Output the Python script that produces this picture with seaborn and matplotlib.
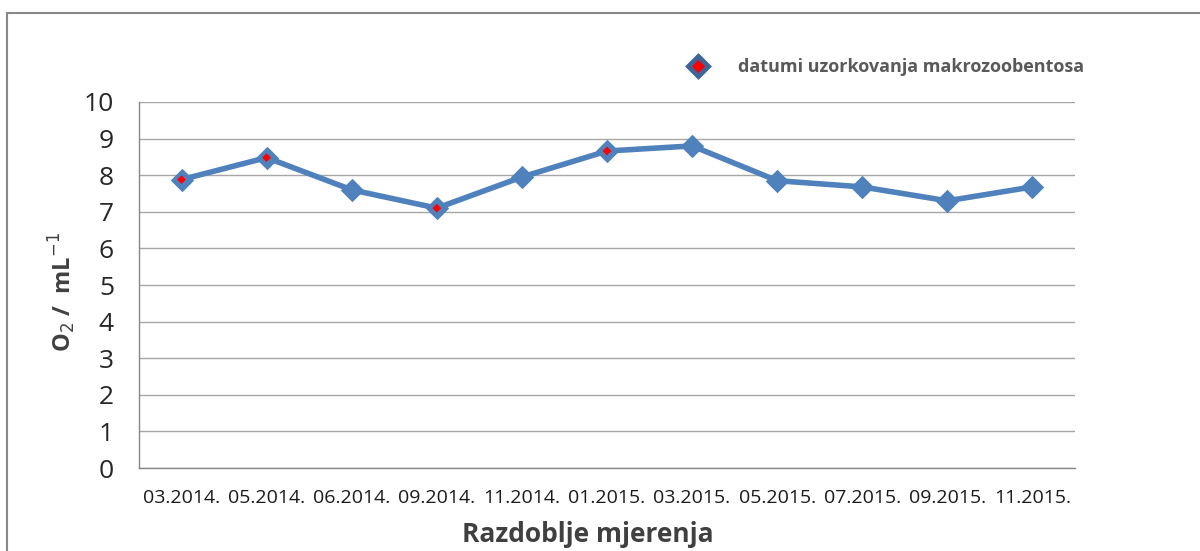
import matplotlib
matplotlib.use("Agg")
import numpy as np
import pandas as pd
import matplotlib.pyplot as plt
import seaborn as sns
from matplotlib.lines import Line2D

# data
datumi = ['03.2014.', '05.2014.', '06.2014.', '09.2014.', '11.2014.', '01.2015.',
          '03.2015.', '05.2015.', '07.2015.', '09.2015.', '11.2015.']
o2 = [7.88, 8.48, 7.6, 7.1, 7.95, 8.66, 8.8, 7.85, 7.68, 7.3, 7.68]
uzorkovanje = ['03.2014.', '05.2014.', '09.2014.', '01.2015.']

df = pd.DataFrame({'datum': datumi, 'o2': o2})
df['x'] = range(len(df))
df_uz = df[df['datum'].isin(uzorkovanje)]

sns.set_style("white")
plt.rcParams['font.family'] = ['Open Sans', 'DejaVu Sans']

blue = '#4F81BD'
grid_c = '#A6A6A6'

fig = plt.figure(figsize=(12, 5.51), dpi=100)
ax = fig.add_axes([0.1158, 0.1506, 0.7800, 0.6643])

sns.lineplot(data=df, x='x', y='o2', ax=ax, color=blue, linewidth=4,
             marker='D', markersize=11, markeredgecolor=blue, zorder=3)
sns.scatterplot(data=df_uz, x='x', y='o2', ax=ax, color='red', marker='D',
                s=20, edgecolor='none', zorder=4)

ax.set_xlim(-0.5, len(datumi) - 0.5)
ax.set_ylim(0, 10)
ax.set_yticks(range(0, 11))
ax.set_xticks(range(len(datumi)))
ax.set_xticklabels(datumi, fontsize=14, color='#1a1a1a')
ax.set_xticks(np.arange(-0.5, len(datumi)), minor=True)
ax.tick_params(axis='x', which='major', length=0, pad=15)
ax.tick_params(axis='x', which='minor', length=6, color='#888888', width=1)
ax.tick_params(axis='y', length=6, color='#888888', width=1, labelsize=19, pad=12)
ax.yaxis.grid(True, color=grid_c, linewidth=1)
ax.set_axisbelow(True)

for s in ['top', 'right']:
    ax.spines[s].set_visible(False)
for s in ['left', 'bottom']:
    ax.spines[s].set_color('#888888')
    ax.spines[s].set_linewidth(1)

ax.set_xlabel('Razdoblje mjerenja', fontsize=19, fontweight='bold', color='#404040')
ax.xaxis.set_label_coords(0.48, -0.145)
ax.set_ylabel('O$_2$ /  mL$^{-1}$', fontsize=17, fontweight='bold', color='#404040')
ax.yaxis.set_label_coords(-0.065, 0.48)

handle = Line2D([], [], linestyle='none', marker='D', markersize=10,
                markerfacecolor='red', markeredgecolor='#3F6497', markeredgewidth=3.5)
leg = fig.legend([handle], ['datumi uzorkovanja makrozoobentosa'], loc='center left',
                 bbox_to_anchor=(0.553, 0.878), frameon=False, handletextpad=1.2,
                 prop={'size': 13, 'weight': 'bold'})
for t in leg.get_texts():
    t.set_color('#595959')

# outer chart frame
fig.add_artist(Line2D([0.006, 1.0], [0.976, 0.976], color='#888888', linewidth=1.5,
                      transform=fig.transFigure))
fig.add_artist(Line2D([0.006, 0.006], [0.0, 0.976], color='#888888', linewidth=1.5,
                      transform=fig.transFigure))

fig.savefig('out.png', dpi=100)
